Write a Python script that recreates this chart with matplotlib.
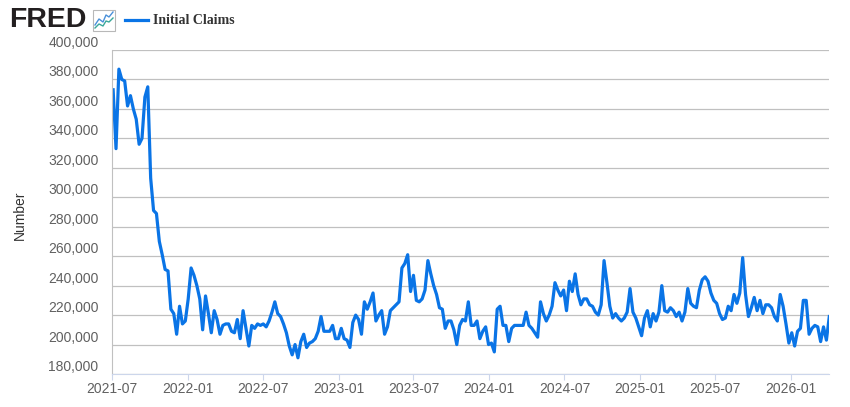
'''
FRED weekly initial claims, Jul 2021 - Mar 2026
'''
import numpy as np
import pandas as pd
import matplotlib.pyplot as plt
import matplotlib.dates as mdates
from matplotlib.lines import Line2D
from matplotlib.patches import Rectangle

plt.rcParams['font.family'] = ['Liberation Sans', 'DejaVu Sans']

## weekly values (thousands), week ending Saturday
claims_2021 = [373, 333, 387, 380, 379, 362, 369, 360, 353, 336, 340, 368, 375,
               313, 291, 289, 270, 261, 251, 250, 224, 221, 207, 226, 214, 216]
claims_2022 = [231, 252, 247, 240, 231, 210, 233, 221, 208, 223, 217, 207, 213,
               214, 214, 209, 208, 217, 204, 223, 211, 199, 213, 211, 214, 213,
               214, 212, 216, 222, 229, 221, 219, 214, 208, 199, 193, 200, 191,
               202, 207, 198, 201, 202, 204, 209, 219, 209, 209, 209, 213, 204, 204]
claims_2023 = [211, 204, 203, 198, 215, 220, 217, 207, 229, 224, 229, 235, 216,
               220, 223, 207, 212, 223, 225, 227, 229, 252, 255, 261, 236, 247,
               230, 229, 231, 237, 257, 248, 240, 234, 225, 224, 211, 216, 216,
               210, 200, 213, 217, 216, 229, 213, 213, 216, 204, 209, 212, 200]
claims_2024 = [201, 195, 224, 226, 213, 213, 202, 211, 213, 213, 213, 213, 222,
               213, 211, 208, 205, 229, 221, 216, 220, 226, 242, 237, 233, 237,
               223, 243, 236, 248, 234, 227, 231, 231, 227, 226, 222, 220, 227,
               257, 242, 226, 218, 221, 218, 216, 218, 222, 238, 222, 218, 212]
claims_2025 = [206, 218, 223, 212, 221, 216, 222, 240, 223, 222, 225, 223, 219,
               222, 216, 222, 238, 228, 226, 225, 237, 244, 246, 243, 235, 230,
               228, 221, 217, 218, 226, 223, 234, 228, 235, 259, 234, 219, 225,
               232, 223, 230, 221, 227, 227, 225, 219, 216, 234, 226, 214, 201]
claims_2026 = [208, 199, 209, 211, 230, 230, 207, 211, 213, 212, 202, 212, 203, 219]

claims = np.array(claims_2021 + claims_2022 + claims_2023 + claims_2024
                  + claims_2025 + claims_2026) * 1000
dates = pd.date_range('2021-07-03', periods=len(claims), freq='W-SAT')

y_ticks = np.arange(180000, 400001, 20000)

plt.close("all")
fig = plt.figure(figsize=(8.5, 4.07), dpi=100)
ax = fig.add_axes([112.3/850, 33/407, 717/850, 324/407])

ax.plot(dates, claims, c='#0a74e6', linewidth=2.3, solid_joinstyle='round')

ax.set_xlim(pd.Timestamp('2021-07-01'), dates[-1])
ax.set_ylim(180000, 400000)
ax.set_yticks(y_ticks)
ax.yaxis.set_major_formatter(plt.FuncFormatter(lambda v, p: f'{v:,.0f}'))
ax.xaxis.set_major_locator(mdates.MonthLocator(bymonth=[1, 7]))
ax.xaxis.set_major_formatter(mdates.DateFormatter('%Y-%m'))

ax.grid(axis='y', color='#c0c0c0', linewidth=0.9)
ax.set_axisbelow(True)
ax.spines['top'].set_visible(False)
ax.spines['right'].set_visible(False)
ax.spines['left'].set_color('#c0c0c0')
ax.spines['bottom'].set_color('#ccd6eb')

ax.tick_params(axis='y', length=0, pad=10, labelsize=10, labelcolor='#606060')
ax.tick_params(axis='x', length=4.5, width=0.8, color='#ccd6eb', pad=1.5,
               labelsize=10, labelcolor='#606060')
for lab in ax.get_yticklabels():
    lab.set_verticalalignment('bottom')

fig.text(20/850, 1-215/407, 'Number', rotation=90, ha='center', va='center',
         fontsize=10, color='#333333')

## header: FRED mark + legend
fig.text(9/850, 1-20/407, 'FRED', ha='left', va='center', fontsize=20.5,
         weight='bold', color='#231f20')
fig.add_artist(Rectangle((93/850, 1-31/407), 22/850, 21/407, transform=fig.transFigure,
                         facecolor='white', edgecolor='#b8b8b8', linewidth=0.8))
ix = np.array([95, 99, 103, 106, 109, 113]) / 850
fig.add_artist(Line2D(ix, 1-np.array([25, 19, 22, 15, 17, 12])/407,
                      transform=fig.transFigure, color='#4a90d9', linewidth=1))
fig.add_artist(Line2D(ix, 1-np.array([28, 24, 26, 21, 22, 18])/407,
                      transform=fig.transFigure, color='#3aa89a', linewidth=1))

fig.add_artist(Line2D([125/850, 148/850], [1-20/407, 1-20/407],
                      transform=fig.transFigure, color='#0a74e6', linewidth=2.3))
fig.text(153/850, 1-21/407, 'Initial Claims', ha='left', va='center', fontsize=10,
         family='Liberation Serif', weight='bold', color='#333333')

plt.savefig('out.png', dpi=100)
